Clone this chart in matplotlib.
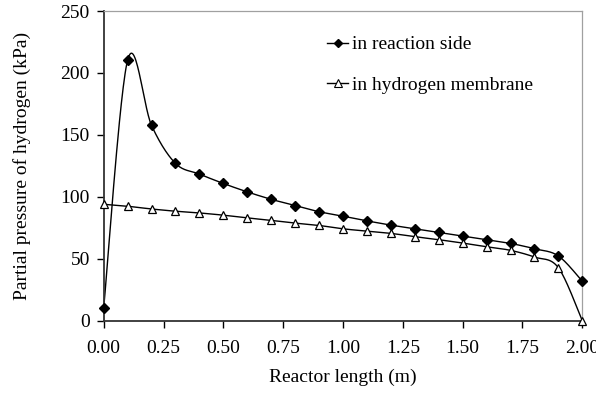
import numpy as np
import matplotlib
matplotlib.use("Agg")
import matplotlib.pyplot as plt

plt.rcParams['font.family'] = ['Liberation Serif', 'DejaVu Serif']

length = [0.0, 0.1, 0.2, 0.3, 0.4, 0.5, 0.6, 0.7, 0.8, 0.9, 1.0,
          1.1, 1.2, 1.3, 1.4, 1.5, 1.6, 1.7, 1.8, 1.9, 2.0]
reaction = [10.5, 210.4, 157.6, 127.0, 118.4, 110.8, 104.0, 98.0, 93.0, 88.0, 84.4,
            80.6, 77.2, 74.2, 71.3, 68.3, 65.4, 62.4, 58.1, 52.3, 31.9]
membrane = [94.0, 92.4, 90.2, 88.4, 87.0, 85.2, 83.0, 81.0, 78.8, 76.9, 74.2,
            72.3, 70.5, 67.8, 65.4, 62.7, 59.7, 56.8, 51.4, 42.8, 0.0]


def smooth(xs, ys, n=30):
    # Excel-like smoothed line: cubic bezier with Catmull-Rom tangents
    p = np.column_stack([xs, ys]).astype(float)
    out = []
    for i in range(len(p) - 1):
        p0 = p[i - 1] if i > 0 else p[i]
        p1 = p[i]
        p2 = p[i + 1]
        p3 = p[i + 2] if i + 2 < len(p) else p[i + 1]
        c1 = p1 + (p2 - p0) / 6.0
        c2 = p2 - (p3 - p1) / 6.0
        t = np.linspace(0, 1, n)[:, None]
        seg = ((1 - t) ** 3) * p1 + 3 * ((1 - t) ** 2) * t * c1 + 3 * (1 - t) * t ** 2 * c2 + t ** 3 * p2
        out.append(seg if i == 0 else seg[1:])
    s = np.vstack(out)
    return s[:, 0], s[:, 1]


fig = plt.figure(figsize=(5.96, 3.94), dpi=100)
ax = fig.add_axes([0.174, 0.186, 0.803, 0.786])

sx, sy = smooth(length, reaction)
ax.plot(sx, sy, color='black', lw=1.0, clip_on=False, zorder=2)
ax.plot(length, reaction, ls='none', marker='D', ms=4.6, color='black', clip_on=False, zorder=3)
mx, my = smooth(length, membrane)
ax.plot(mx, my, color='black', lw=1.0, clip_on=False, zorder=2)
ax.plot(length, membrane, ls='none', marker='^', ms=6, mfc='white', mec='black', mew=0.9,
        clip_on=False, zorder=3)

# legend entries
h1, = ax.plot([], [], color='black', lw=1.0, marker='D', ms=4)
h2, = ax.plot([], [], color='black', lw=1.0, marker='^', ms=5.5, mfc='white', mec='black', mew=0.8)
ax.legend([h1, h2], ['in reaction side', 'in hydrogen membrane'], loc='upper left',
          bbox_to_anchor=(0.45, 0.945), frameon=False, fontsize=14, handlelength=1.1,
          handletextpad=0.2, labelspacing=1.18, borderaxespad=0)

ax.set_xlim(0, 2.0)
ax.set_ylim(0, 250)
ax.set_xticks(np.arange(0, 2.01, 0.25))
ax.set_xticklabels([f"{v:.2f}" for v in np.arange(0, 2.01, 0.25)])
ax.set_yticks(range(0, 251, 50))
ax.tick_params(direction='out', length=5, width=1, colors='black', labelsize=14)
ax.tick_params(axis='x', pad=9)
ax.tick_params(axis='y', pad=5)
ax.set_xlabel('Reactor length (m)', fontsize=14, labelpad=8)
ax.set_ylabel('Partial pressure of hydrogen (kPa)', fontsize=14, labelpad=21)

for s in ['left', 'bottom']:
    ax.spines[s].set_color('#333333')
    ax.spines[s].set_linewidth(1.3)
for s in ['top', 'right']:
    ax.spines[s].set_color('#a0a0a0')
    ax.spines[s].set_linewidth(0.9)

fig.savefig('out.png', dpi=100)
